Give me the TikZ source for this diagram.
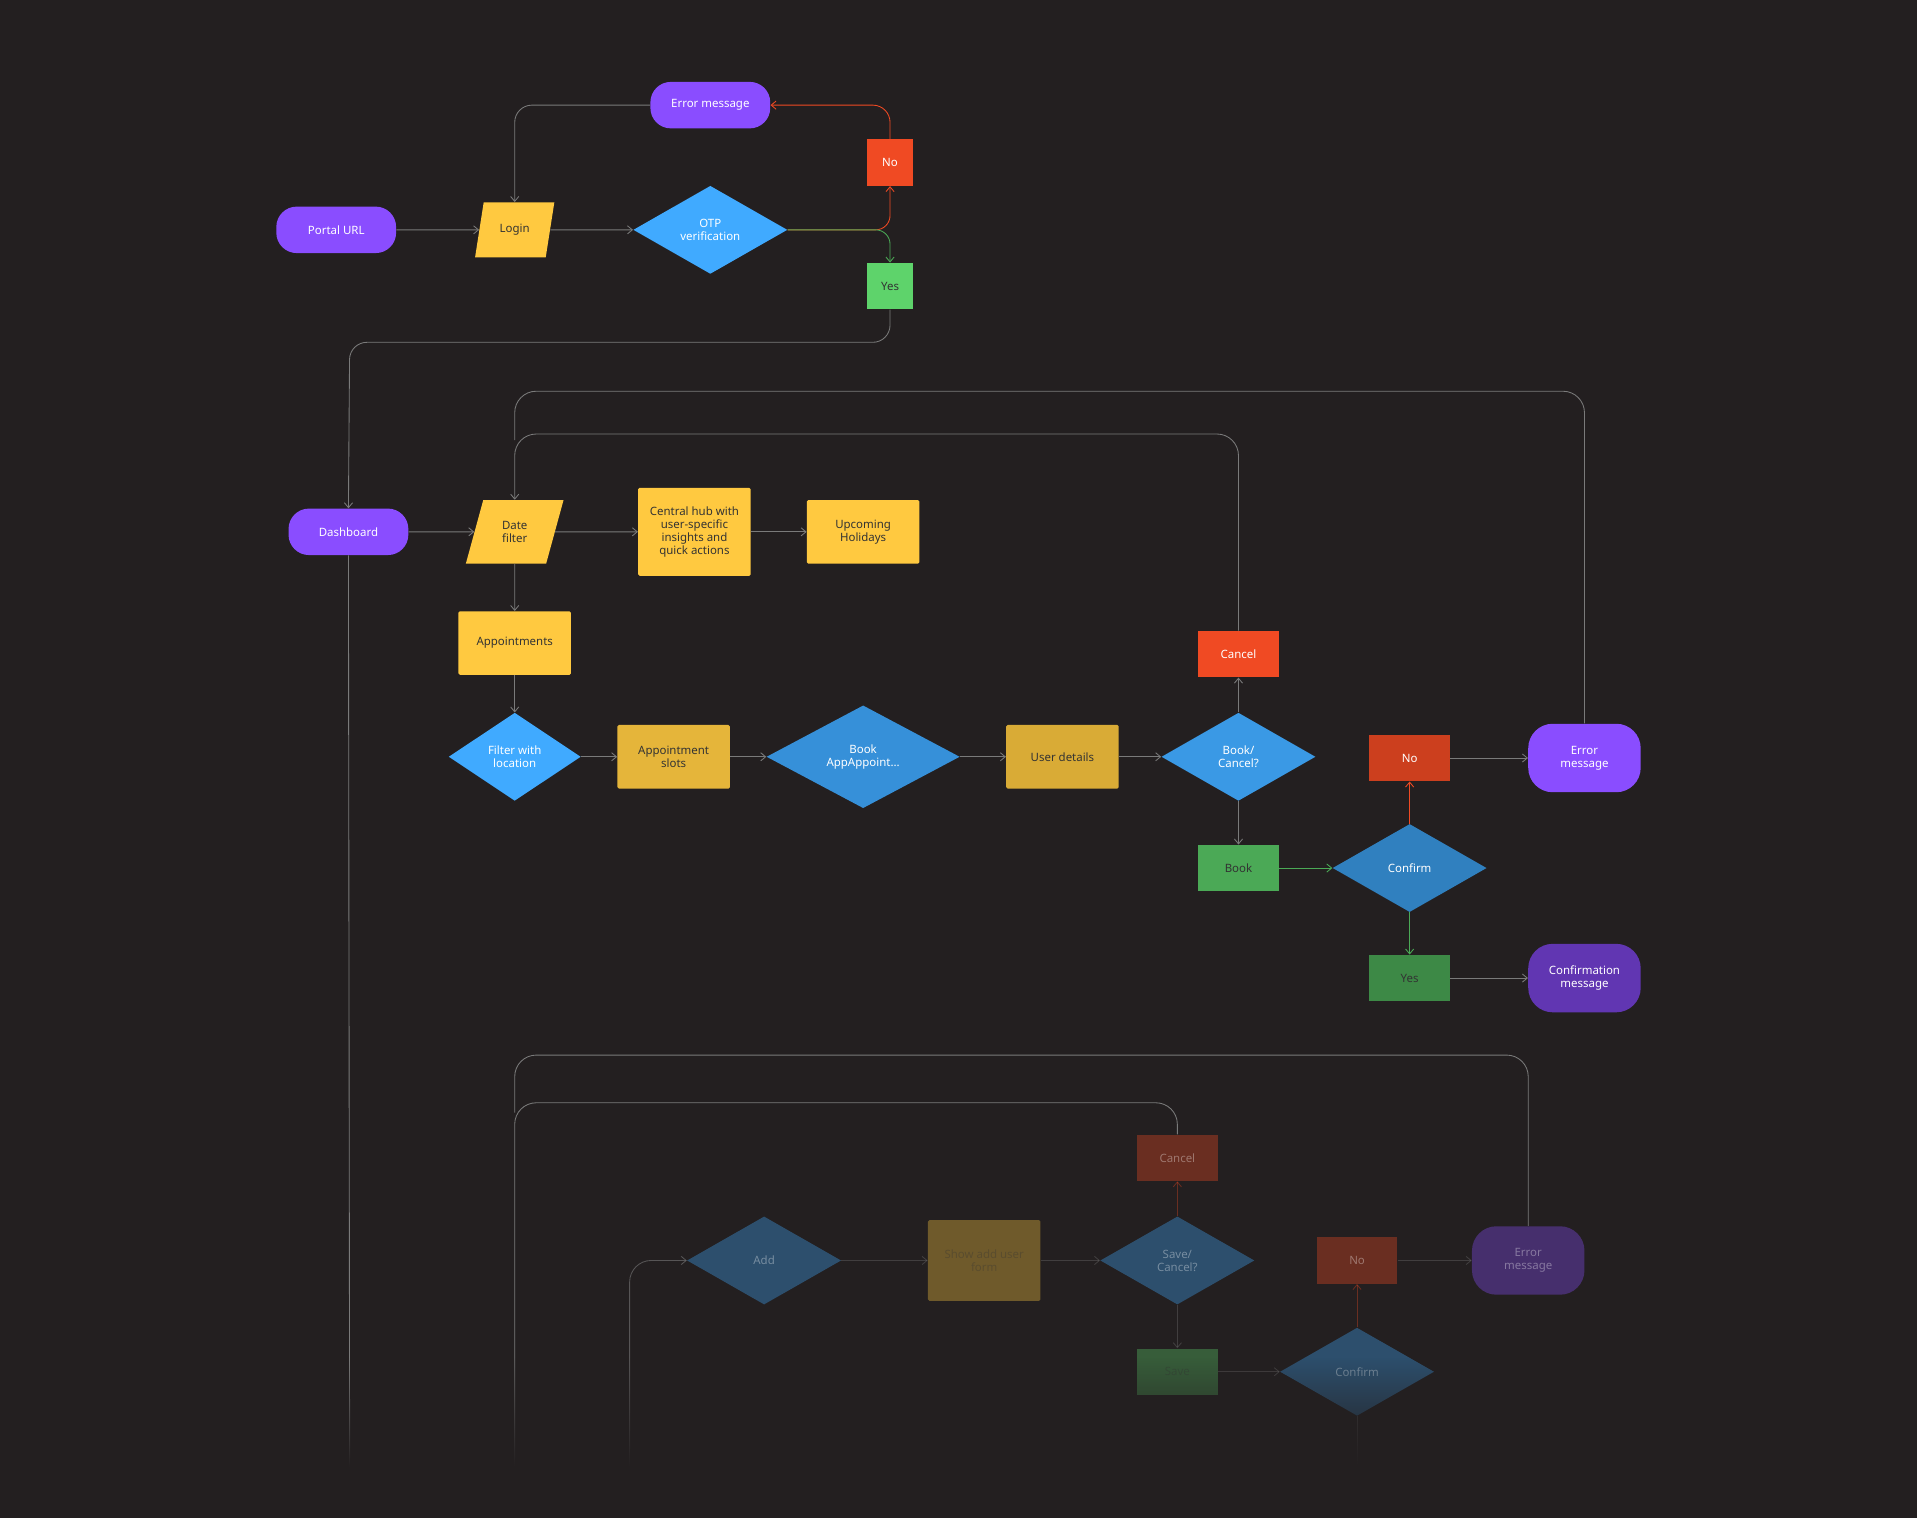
\documentclass[tikz,border=0pt]{standalone}
\usepackage{fontspec}
\setmainfont{Noto Sans}
\usetikzlibrary{shapes.geometric,arrows.meta,fadings}
\definecolor{bg}{HTML}{231F20}
\definecolor{cpurple}{HTML}{8A4DFF}
\definecolor{cyellow}{HTML}{FFC940}
\definecolor{cblue}{HTML}{40AAFF}
\definecolor{cred}{HTML}{F04A23}
\definecolor{cgreen}{HTML}{5ED36B}
\definecolor{cline}{HTML}{7A7A7A}

\begin{document}
\begin{tikzpicture}[x=0.03cm, y=-0.03cm, font=\fontsize{8}{9}\selectfont,
    base/.style = {inner sep=1pt, align=center, text=white},
    term/.style = {base, rectangle, rounded corners=0.5cm, fill=cpurple, minimum width=2.94cm, minimum height=1.14cm},
    msg/.style = {base, rectangle, rounded corners=0.6cm, fill=cpurple, minimum width=2.76cm, minimum height=1.68cm},
    box/.style = {base, rectangle, rounded corners=1pt, fill=cyellow, text=black!80, minimum width=2.76cm, minimum height=1.56cm},
    slant/.style = {base, trapezium, trapezium left angle=72, trapezium right angle=108, fill=cyellow, text=black!80, trapezium stretches=true},
    dia/.style = {base, diamond, fill=cblue, minimum width=3.78cm, minimum height=2.16cm, inner sep=0pt},
    nobox/.style = {base, rectangle, fill=cred, minimum width=1.98cm, minimum height=1.14cm},
    yesbox/.style = {base, rectangle, fill=cgreen, text=black!80, minimum width=1.98cm, minimum height=1.14cm},
    line/.style = {draw=cline, line width=0.6pt, -{Straight Barb[length=1.2mm, width=2mm]}},
    rline/.style = {line, draw=cred},
    gline/.style = {line, draw=cgreen!80!black},
    dim/.style = {opacity=0.35}]
  \fill[bg] (0,0) rectangle (1568,1242);

  % login part
  \node [term] (portal) at (275,188) {Portal URL};
  \node [slant, minimum width=1.95cm, minimum height=1.35cm] (login) at (421,188) {Login};
  \node [dia] (otp) at (581,188) {OTP\\verification};
  \node [term] (err1) at (581,86) {Error message};
  \node [nobox, minimum width=1.14cm] (no1) at (728,133) {No};
  \node [yesbox, minimum width=1.14cm] (yes1) at (728,234) {Yes};

  \draw [line] (portal) -- (login);
  \draw [line] (login) -- (otp);
  \draw [rline, rounded corners=10] (otp.east) -- (728,188) -- (no1.south);
  \draw [gline, rounded corners=10] (otp.east) -- (728,188) -- (yes1.north);
  \draw [rline, rounded corners=12] (no1.north) -- (728,86) -- (err1.east);
  \draw [line, rounded corners=12] (err1.west) -- (421,86) -- (login.north);

  % dashboard part
  \node [term] (dash) at (285,435) {Dashboard};
  \node [slant, minimum width=2.4cm, minimum height=1.56cm] (date) at (421,435) {Date\\filter};
  \node [box, minimum height=2.16cm] (hub) at (568,435) {Central hub with\\user-specific\\insights and\\quick actions};
  \node [box] (hol) at (706,435) {Upcoming\\Holidays};
  \node [box] (appt) at (421,526) {Appointments};
  \node [dia, minimum width=3.24cm] (filter) at (421,619) {Filter with\\location};
  \node [box, fill=cyellow!90!black] (slots) at (551,619) {Appointment\\slots};
  \node [dia, minimum width=4.74cm, minimum height=2.52cm, fill=cblue!85!black] (book) at (706,619) {Book\\AppAppoint...};
  \node [box, fill=cyellow!85!black] (user) at (869,619) {User details};
  \node [dia, fill=cblue!90!black] (bc) at (1013,619) {Book/\\Cancel?};
  \node [nobox] (cancel) at (1013,535) {Cancel};
  \node [yesbox, fill=cgreen!80!black] (bookg) at (1013,710) {Book};
  \node [dia, fill=cblue!75!black] (confirm) at (1153,710) {Confirm};
  \node [nobox, fill=cred!85!black] (no2) at (1153,620) {No};
  \node [msg] (err2) at (1296,620) {Error\\message};
  \node [yesbox, fill=cgreen!65!black] (yes2) at (1153,800) {Yes};
  \node [msg, fill=cpurple!70!black] (conf) at (1296,800) {Confirmation\\message};

  \draw [line, rounded corners=12] (yes1.south) -- (728,280) -- (286,280) -- (dash.north);
  \draw [line] (dash) -- (date);
  \draw [line] (date) -- (hub);
  \draw [line] (hub) -- (hol);
  \draw [line] (date) -- (appt);
  \draw [line] (appt) -- (filter);
  \draw [line] (filter) -- (slots);
  \draw [line] (slots) -- (book);
  \draw [line] (book) -- (user);
  \draw [line] (user) -- (bc);
  \draw [line] (bc) -- (cancel);
  \draw [line] (bc) -- (bookg);
  \draw [gline] (bookg) -- (confirm);
  \draw [rline] (confirm) -- (no2);
  \draw [line] (no2) -- (err2);
  \draw [gline] (confirm) -- (yes2);
  \draw [line] (yes2) -- (conf);
  \draw [line, rounded corners=15] (cancel.north) -- (1013,355) -- (421,355) -- (date.north);
  \draw [draw=cline, line width=0.6pt, rounded corners=15] (err2.north) -- (1296,320) -- (421,320) -- (421,360);
  \draw [draw=cline, line width=0.6pt] (dash.south) -- (286,1200);

  % add user part
  \begin{scope}[dim]
    \node [dia] (add) at (625,1031) {Add};
    \node [box, minimum height=1.98cm] (form) at (805,1031) {Show add user\\form};
    \node [dia] (sc) at (963,1031) {Save/\\Cancel?};
    \node [nobox] (cancel3) at (963,947) {Cancel};
    \node [yesbox] (save) at (963,1122) {Save};
    \node [dia] (confirm3) at (1110,1122) {Confirm};
    \node [nobox] (no3) at (1110,1031) {No};
    \node [msg] (err3) at (1250,1031) {Error\\message};

    \draw [line] (add) -- (form);
    \draw [line] (form) -- (sc);
    \draw [rline] (sc) -- (cancel3);
    \draw [line] (sc) -- (save);
    \draw [line] (save) -- (confirm3);
    \draw [rline] (confirm3) -- (no3);
    \draw [line] (no3) -- (err3);
    \draw [draw=cline, line width=0.6pt] (confirm3.south) -- (1110,1200);
  \end{scope}
  \draw [draw=cline, line width=0.6pt, rounded corners=15] (cancel3.north) -- (963,902) -- (421,902) -- (421,1200);
  \draw [draw=cline, line width=0.6pt, rounded corners=15] (err3.north) -- (1250,863) -- (421,863) -- (421,910);
  \draw [line, rounded corners=15, opacity=0.6] (515,1200) -- (515,1031) -- (add.west);

  % fade at the bottom
  \fill [bg, path fading=north] (0,1110) rectangle (1568,1200);
  \fill [bg] (0,1200) rectangle (1568,1242);
\end{tikzpicture}
\end{document}
